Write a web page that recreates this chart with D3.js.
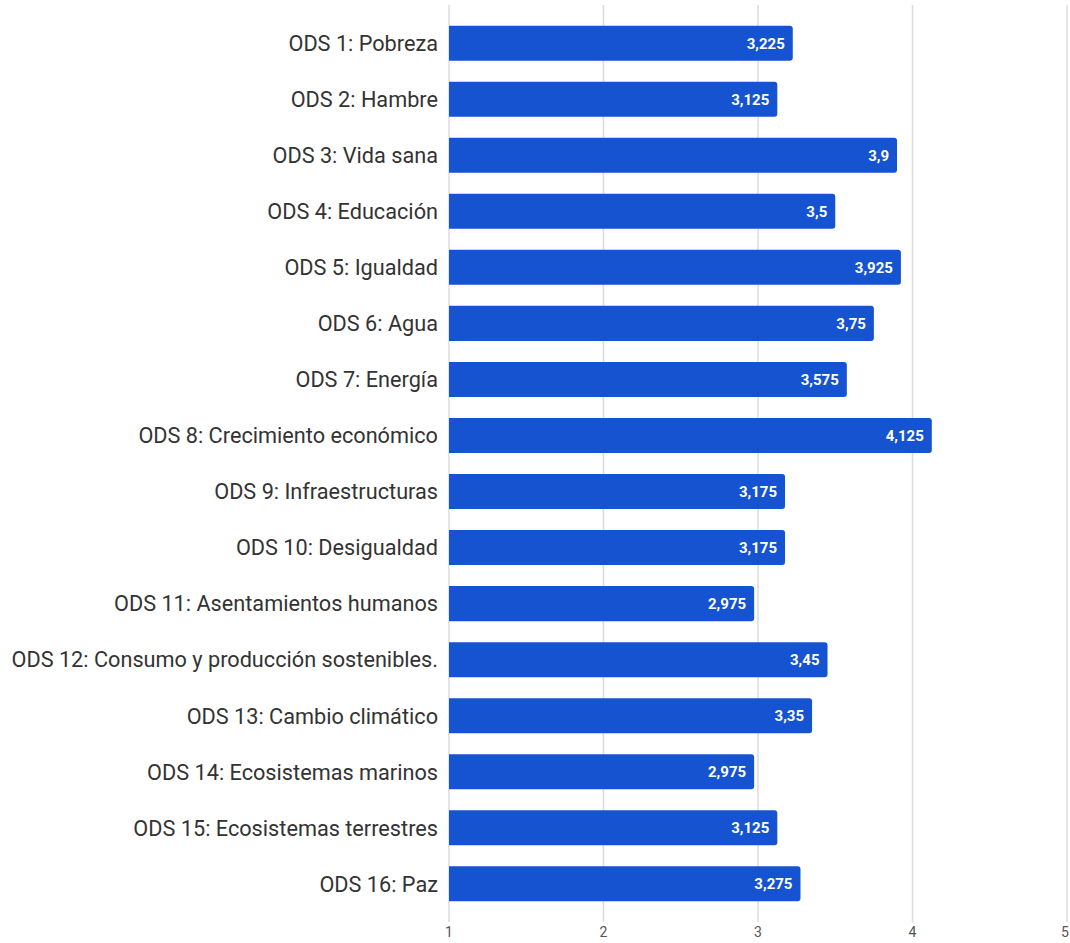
<!DOCTYPE html>
<html><head><meta charset="utf-8">
<script src="https://cdn.jsdelivr.net/npm/d3@7"></script>
<style>body{margin:0;background:#fff;} svg{display:block;}</style>
</head><body>
<script>
const categories = ["ODS 1: Pobreza","ODS 2: Hambre","ODS 3: Vida sana","ODS 4: Educación","ODS 5: Igualdad","ODS 6: Agua","ODS 7: Energía","ODS 8: Crecimiento económico","ODS 9: Infraestructuras","ODS 10: Desigualdad","ODS 11: Asentamientos humanos","ODS 12: Consumo y producción sostenibles.","ODS 13: Cambio climático","ODS 14: Ecosistemas marinos","ODS 15: Ecosistemas terrestres","ODS 16: Paz"];
const values = [3.225,3.125,3.9,3.5,3.925,3.75,3.575,4.125,3.175,3.175,2.975,3.45,3.35,2.975,3.125,3.275];
const ticks = [1,2,3,4,5];

const W=1070,H=943;
const svg=d3.select("body").append("svg").attr("width",W).attr("height",H);
const x=d3.scaleLinear().domain([1,5]).range([449,1067]);
const y=d3.scaleBand().domain(categories).range([15,912]).paddingInner(0.375).paddingOuter(0.19);
const fmt=v=>String(v).replace(".",",");

svg.append("g").selectAll("line").data(ticks).join("line")
 .attr("x1",d=>x(d)).attr("x2",d=>x(d)).attr("y1",5).attr("y2",922)
 .attr("stroke","#dcdcdc").attr("stroke-width",1.5);
svg.append("g").selectAll("text").data(ticks).join("text")
 .attr("x",d=>Math.min(x(d),W-5)).attr("y",937).attr("text-anchor","middle")
 .attr("font-family","Roboto, Arial, sans-serif").attr("font-size",14).attr("fill","#555").text(d=>d);

const r=3;
svg.append("g").selectAll("path").data(values).join("path")
 .attr("fill","#1553d1")
 .attr("d",(d,i)=>{const x0=x(1),x1=x(d),y0=y(categories[i]),h=y.bandwidth();
   return `M${x0},${y0}H${x1-r}Q${x1},${y0} ${x1},${y0+r}V${y0+h-r}Q${x1},${y0+h} ${x1-r},${y0+h}H${x0}Z`;});
svg.append("g").selectAll("text").data(values).join("text")
 .attr("x",d=>x(d)-8).attr("y",(d,i)=>y(categories[i])+y.bandwidth()/2).attr("dy","0.36em")
 .attr("text-anchor","end").attr("font-family","Roboto, Arial, sans-serif").attr("font-weight","bold")
 .attr("font-size",15).attr("fill","#fff").text(fmt);
svg.append("g").selectAll("text").data(categories).join("text")
 .attr("x",438).attr("y",d=>y(d)+y.bandwidth()/2).attr("dy","0.36em")
 .attr("text-anchor","end").attr("font-family","Roboto, Arial, sans-serif")
 .attr("font-size",21.7).attr("fill","#333").text(d=>d);
</script>
</body></html>
